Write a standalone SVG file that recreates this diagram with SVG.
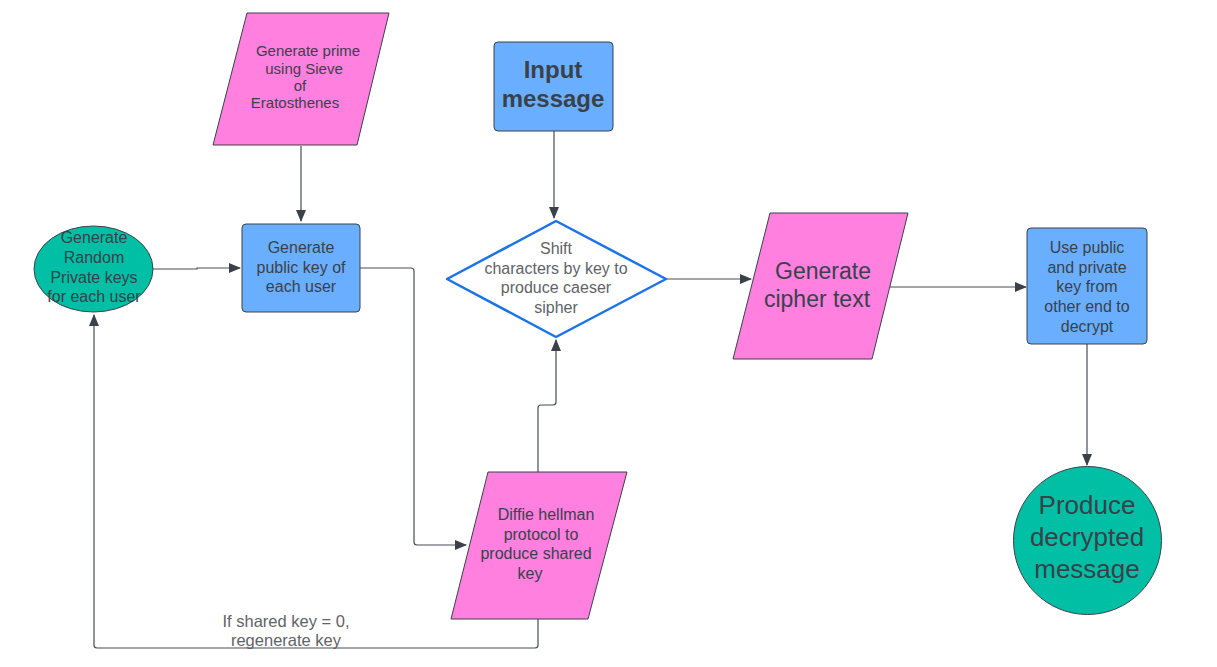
<svg xmlns="http://www.w3.org/2000/svg" width="1217" height="667" viewBox="0 0 1217 667">
<defs>
<marker id="ah" markerWidth="12" markerHeight="10" refX="11" refY="5" orient="auto" markerUnits="userSpaceOnUse">
<path d="M0,0 L12,5 L0,10 Z" fill="#3a414a"/>
</marker>
<style>
.pink{fill:#ff80df;stroke:#3a414a;stroke-width:1;stroke-linejoin:round}
.blue{fill:#6aafff;stroke:#3a414a;stroke-width:1}
.teal{fill:#00bfa5;stroke:#3a414a;stroke-width:1}
.t{font-family:"Liberation Sans",Arial,sans-serif;fill:#3a414a;text-anchor:middle}
.g{font-family:"Liberation Sans",Arial,sans-serif;fill:#5f6368;text-anchor:middle}
.c{fill:none;stroke:#474e57;stroke-width:1.2}
</style>
</defs>
<rect width="1217" height="667" fill="#ffffff"/>
<g id="connectors">
<path class="c" d="M301,146 V221" marker-end="url(#ah)"/>
<path class="c" d="M153,269 H197 V268 H240" marker-end="url(#ah)"/>
<path class="c" d="M360,268 H411 Q414,268 414,271 V542 Q414,545 417,545 H466" marker-end="url(#ah)"/>
<path class="c" d="M538,472 V408 Q538,405 541,405 H553 Q556,405 556,402 V340" marker-end="url(#ah)"/>
<path class="c" d="M554,131 V218" marker-end="url(#ah)"/>
<path class="c" d="M666,279 H751" marker-end="url(#ah)"/>
<path class="c" d="M890,287 H1026" marker-end="url(#ah)"/>
<path class="c" d="M1087,344 V465" marker-end="url(#ah)"/>
<path class="c" d="M538,619 V645 Q538,648 535,648 H97 Q94,648 94,645 V315" marker-end="url(#ah)"/>
<text class="g" font-size="16.5" x="286" y="627">If shared key = 0,</text>
<text class="g" font-size="16.5" x="286" y="646">regenerate key</text>
</g>
<g id="prime">
<path class="pink" d="M247,13 H389 L357,145 H213 Z"/>
<text class="t" font-size="15"><tspan x="308" y="56">Generate prime</tspan><tspan x="304" y="74">using Sieve</tspan><tspan x="300" y="91">of</tspan><tspan x="295" y="108">Eratosthenes</tspan></text>
</g>
<g id="private">
<ellipse class="teal" cx="93.5" cy="269" rx="59.5" ry="43"/>
<text class="t" font-size="16"><tspan x="94" y="243">Generate</tspan><tspan x="94" y="263">Random</tspan><tspan x="94" y="283">Private keys</tspan><tspan x="94" y="302">for each user</tspan></text>
</g>
<g id="public">
<rect class="blue" x="242" y="224" width="118" height="88" rx="4"/>
<text class="t" font-size="16"><tspan x="301" y="253">Generate</tspan><tspan x="301" y="273">public key of</tspan><tspan x="301" y="292">each user</tspan></text>
</g>
<g id="input">
<rect class="blue" x="494" y="42" width="119" height="89" rx="4"/>
<text class="t" font-size="24" font-weight="bold"><tspan x="553" y="78">Input</tspan><tspan x="553" y="107">message</tspan></text>
</g>
<g id="shift">
<path d="M556,221 L666,279 L556,337 L447,279 Z" fill="#ffffff" stroke="#1a73e8" stroke-width="2.5" stroke-linejoin="round"/>
<text class="g" font-size="16"><tspan x="556" y="254">Shift</tspan><tspan x="556" y="274">characters by key to</tspan><tspan x="556" y="293">produce caeser</tspan><tspan x="556" y="313">sipher</tspan></text>
</g>
<g id="diffie">
<path class="pink" d="M488,472 H627 L588,619 H451 Z"/>
<text class="t" font-size="16"><tspan x="546" y="520">Diffie hellman</tspan><tspan x="541" y="540">protocol to</tspan><tspan x="536" y="559">produce shared</tspan><tspan x="530" y="579">key</tspan></text>
</g>
<g id="cipher">
<path class="pink" d="M770,213 H908 L872,359 H733 Z"/>
<text class="t" font-size="23"><tspan x="823" y="279">Generate</tspan><tspan x="817" y="307">cipher text</tspan></text>
</g>
<g id="decrypt">
<rect class="blue" x="1027" y="228" width="120" height="116" rx="4"/>
<text class="t" font-size="16"><tspan x="1087" y="253">Use public</tspan><tspan x="1087" y="273">and private</tspan><tspan x="1087" y="292">key from</tspan><tspan x="1087" y="312">other end to</tspan><tspan x="1087" y="332">decrypt</tspan></text>
</g>
<g id="produce">
<circle class="teal" cx="1087.5" cy="540.5" r="74"/>
<text class="t" font-size="26"><tspan x="1087" y="514">Produce</tspan><tspan x="1087" y="546">decrypted</tspan><tspan x="1087" y="578">message</tspan></text>
</g>
</svg>
